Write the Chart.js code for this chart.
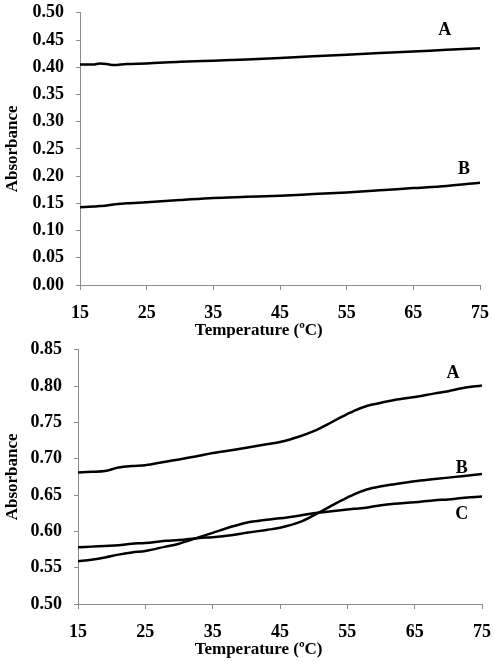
<!DOCTYPE html>
<html>
<head>
<meta charset="utf-8">
<script src="https://cdn.jsdelivr.net/npm/chart.js@4.4.1/dist/chart.umd.min.js"></script>
<style>
  html, body { margin: 0; padding: 0; background: #fff; }
  #wrap { position: relative; width: 494px; height: 662px; overflow: hidden; }
  #c1 { position: absolute; left: 0; top: -10px; }
  #c2 { position: absolute; left: 0; top: 327px; }
</style>
</head>
<body>
<div id="wrap">
  <canvas id="c1" width="494" height="348"></canvas>
  <canvas id="c2" width="494" height="335"></canvas>
</div>
<script>
// ---- data ----
const xTicks = [15, 25, 35, 45, 55, 65, 75];

const topTemps = [15, 17, 18, 19, 20, 22, 25, 30, 35, 40, 45, 50, 55, 60, 65, 70, 75];
const topA = [0.405, 0.405, 0.407, 0.406, 0.404, 0.406, 0.407, 0.410, 0.412, 0.414, 0.417, 0.420, 0.423, 0.426, 0.429, 0.432, 0.435];
const topB = [0.143, 0.144, 0.145, 0.146, 0.148, 0.150, 0.152, 0.156, 0.160, 0.162, 0.164, 0.167, 0.170, 0.174, 0.178, 0.182, 0.188];

const botTemps = [15, 17, 19, 21, 23, 25, 28, 30, 33, 35, 38, 40, 43, 45, 48, 50, 52, 54, 56, 58, 60, 62, 65, 68, 70, 72, 75];
const botA = [0.681, 0.682, 0.683, 0.688, 0.690, 0.691, 0.696, 0.699, 0.704, 0.708, 0.712, 0.715, 0.720, 0.723, 0.731, 0.738, 0.747, 0.757, 0.766, 0.773, 0.777, 0.781, 0.785, 0.790, 0.793, 0.797, 0.801];
const botB = [0.578, 0.579, 0.580, 0.581, 0.583, 0.584, 0.587, 0.588, 0.591, 0.592, 0.595, 0.598, 0.602, 0.605, 0.613, 0.622, 0.632, 0.642, 0.651, 0.658, 0.662, 0.665, 0.669, 0.672, 0.674, 0.676, 0.679];
const botC = [0.559, 0.561, 0.564, 0.568, 0.571, 0.573, 0.579, 0.583, 0.592, 0.598, 0.607, 0.612, 0.616, 0.618, 0.622, 0.625, 0.627, 0.629, 0.631, 0.633, 0.636, 0.638, 0.640, 0.643, 0.644, 0.646, 0.648];

const xTitle = 'Temperature (ºC)';
const yTitle = 'Absorbance';

// ---- helpers ----
const FONT = "'Liberation Serif', 'Times New Roman', serif";
const AXIS = '#8c8c8c';

function pts(xs, ys) { return xs.map((x, i) => ({ x: x, y: ys[i] })); }

function ds(xs, ys) {
  return {
    data: pts(xs, ys),
    borderColor: '#000',
    borderWidth: 2.5,
    pointRadius: 0,
    fill: false,
    cubicInterpolationMode: 'monotone'
  };
}

const labelPlugin = {
  id: 'curveLabels',
  afterDraw(chart, args, opts) {
    const ctx = chart.ctx;
    const xs = chart.scales.x, ys = chart.scales.y;
    ctx.save();
    ctx.fillStyle = '#000';
    ctx.font = 'bold 18px ' + FONT;
    ctx.textAlign = 'center';
    ctx.textBaseline = 'middle';
    (opts.items || []).forEach(it => {
      ctx.fillText(it.text, xs.getPixelForValue(it.x), ys.getPixelForValue(it.y));
    });
    // x axis title
    const ca = chart.chartArea;
    ctx.font = 'bold 17px ' + FONT;
    ctx.fillText(xTitle, ca.left + (ca.right - ca.left) * 0.447, ca.bottom + opts.titleOffset);
    ctx.restore();
  }
};

function makeChart(id, datasets, yMin, yMax, leftW, padTop, padRight, xH, items, titleOffset) {
  return new Chart(document.getElementById(id), {
    type: 'line',
    data: { datasets: datasets },
    plugins: [labelPlugin],
    options: {
      responsive: false,
      animation: false,
      events: [],
      layout: { padding: { top: padTop, right: padRight, left: 0, bottom: 0 } },
      plugins: {
        legend: { display: false },
        tooltip: { enabled: false },
        curveLabels: { items: items, titleOffset: titleOffset }
      },
      scales: {
        x: {
          type: 'linear',
          min: 15, max: 75,
          afterBuildTicks: s => { s.ticks = xTicks.map(v => ({ value: v })); },
          afterFit: s => { s.height = xH; s.paddingLeft = 0; s.paddingRight = 0; },
          border: { display: true, color: AXIS, width: 1 },
          grid: { display: true, drawOnChartArea: false, drawTicks: true, tickLength: 5, color: AXIS },
          ticks: {
            color: '#000', padding: 13, maxRotation: 0,
            font: { family: FONT, size: 18, weight: 'bold' },
            callback: v => String(v)
          }
        },
        y: {
          min: yMin, max: yMax,
          afterFit: s => { s.width = leftW; },
          border: { display: true, color: AXIS, width: 1 },
          grid: { display: true, drawOnChartArea: false, drawTicks: true, tickLength: 4, color: AXIS },
          ticks: {
            stepSize: 0.05, color: '#000', padding: 12,
            font: { family: FONT, size: 18, weight: 'bold' },
            callback: v => v.toFixed(2)
          },
          title: {
            display: true, text: yTitle, color: '#000',
            font: { family: FONT, size: 17, weight: 'bold' },
            padding: { top: 2, bottom: 0 }
          }
        }
      }
    }
  });
}

makeChart('c1', [ds(topTemps, topA), ds(topTemps, topB)], 0, 0.5, 80, 0, 14, 53,
  [{ text: 'A', x: 69.7, y: 0.467 }, { text: 'B', x: 72.6, y: 0.213 }], 46);

makeChart('c2', [ds(botTemps, botA), ds(botTemps, botB), ds(botTemps, botC)], 0.5, 0.85, 78, 0, 12, 58,
  [{ text: 'A', x: 70.7, y: 0.817 }, { text: 'B', x: 72.0, y: 0.687 }, { text: 'C', x: 72.0, y: 0.624 }], 46);
</script>
</body>
</html>
